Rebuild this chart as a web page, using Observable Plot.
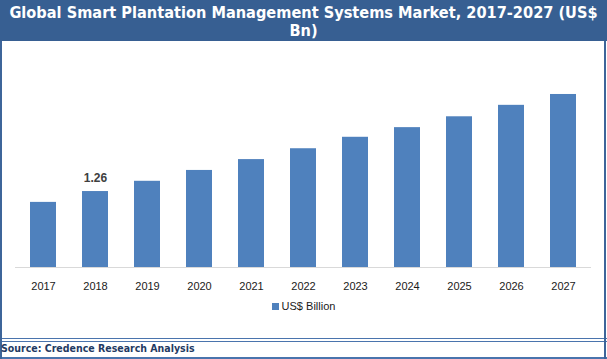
<!DOCTYPE html>
<html>
<head>
<meta charset="utf-8">
<script src="https://cdn.jsdelivr.net/npm/d3@7"></script>
<script src="https://cdn.jsdelivr.net/npm/@observablehq/plot@0.6"></script>
<style>
  html, body { margin: 0; padding: 0; background: #fff; }
  #wrap { position: relative; width: 607px; height: 359px; overflow: hidden; background: #fff; }
  #title { position: absolute; left: 0; top: 0; width: 607px; height: 41px; background: #375f92;
    color: #fff; font-family: "DejaVu Sans Condensed", "DejaVu Sans", sans-serif; font-weight: bold;
    font-size: 16.2px; line-height: 18px; text-align: center; padding-top: 4px; box-sizing: border-box; white-space: nowrap; }
  .vline { position: absolute; width: 2px; background: #3d659a; }
  .hline { position: absolute; height: 1px; background: #4a74ad; left: 0; width: 607px; }
  #chart { position: absolute; left: 0; top: 42px; }
  #legend { position: absolute; left: 0; top: 300px; width: 607px; text-align: center;
    font-family: "Liberation Sans", Arial, sans-serif; font-size: 11px; color: #1a1a1a; }
  #legend .sw { display: inline-block; width: 7px; height: 7px; background: #4f81bd; margin-right: 3px; vertical-align: 0px; }
  #source { position: absolute; left: 1px; top: 342px; font-family: "DejaVu Sans Condensed", "DejaVu Sans", sans-serif;
    font-weight: bold; font-size: 10.5px; color: #1f3a63; }
</style>
</head>
<body>
<div id="wrap">
  <div id="title">Global Smart Plantation Management Systems Market, 2017-2027 (US$<br>Bn)</div>
  <div id="chart"></div>
  <div id="legend"><span class="sw"></span>US$ Billion</div>
  <div class="hline" style="top:338px"></div>
  <div class="hline" style="top:341px"></div>
  <div class="hline" style="top:357px;height:2px"></div>
  <div class="vline" style="left:0;top:41px;height:318px"></div>
  <div class="vline" style="left:604px;top:41px;height:318px"></div>
  <div id="source">Source: Credence Research Analysis</div>
</div>
<script>
const years = ["2017","2018","2019","2020","2021","2022","2023","2024","2025","2026","2027"];
const values = [1.08, 1.26, 1.43, 1.61, 1.79, 1.97, 2.16, 2.32, 2.50, 2.69, 2.87];
const labelledYear = "2018";
const seriesName = "US$ Billion";

const data = years.map((y, i) => ({year: y, value: values[i]}));

const chart = Plot.plot({
  width: 607,
  height: 254,
  marginLeft: 15,
  marginRight: 16,
  marginTop: 14,
  marginBottom: 29,
  style: {fontFamily: "Liberation Sans, Arial, sans-serif", fontSize: "11px", color: "#1a1a1a", background: "transparent"},
  x: {domain: years, paddingInner: 0.5, paddingOuter: 0.25, label: null, tickSize: 0, tickPadding: 15},
  y: {domain: [0, 3.5], axis: null},
  marks: [
    Plot.barY(data, {x: "year", y: "value", fill: "#4f81bd"}),
    Plot.ruleY([0], {stroke: "#d9d9d9", strokeWidth: 1}),
    Plot.text(data.filter(d => d.year === labelledYear), {x: "year", y: "value", text: d => d.value.toFixed(2),
      dy: -13, fontWeight: "bold", fontSize: 12, fill: "#404040"})
  ]
});
document.getElementById("chart").appendChild(chart);
</script>
</body>
</html>
